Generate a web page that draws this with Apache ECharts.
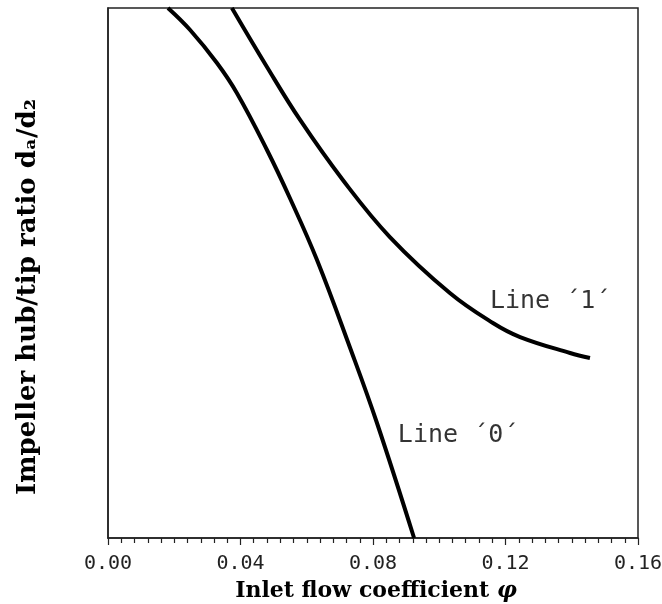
<!DOCTYPE html>
<html>
<head>
<meta charset="utf-8">
<script src="https://cdn.jsdelivr.net/npm/echarts@6/dist/echarts.min.js"></script>
<style>html,body{margin:0;padding:0;background:#fff}#c{width:662px;height:604px}</style>
</head>
<body>
<div id="c"></div>
<script>
// Inlet flow coefficient (x) and normalised hub/tip ratio (y, axis unlabelled)
const line0X = [0.0181, 0.0248, 0.0329, 0.0389, 0.0480, 0.0549, 0.0631, 0.0731, 0.0812, 0.0924];
const line0Y = [1.000, 0.9585, 0.8962, 0.8396, 0.7321, 0.6415, 0.5245, 0.3585, 0.2170, 0.000];
const line1X = [0.0374, 0.0480, 0.0580, 0.0709, 0.0851, 0.1032, 0.1162, 0.1244, 0.1395, 0.1455];
const line1Y = [1.000, 0.8887, 0.7887, 0.6755, 0.5679, 0.4623, 0.4057, 0.3792, 0.3491, 0.3396];
const xTickLabels = ['0.00', '0.04', '0.08', '0.12', '0.16'];
const seriesNames = ["Line ´0´", "Line ´1´"];

const zip = (xs, ys) => xs.map((x, i) => [x, ys[i]]);
const plotFont = 'DejaVu Sans Mono';

const chart = echarts.init(document.getElementById('c'), null, {renderer: 'canvas'});
chart.setOption({
  animation: false,
  backgroundColor: '#fff',
  grid: {left: 108, right: 24, top: 8, bottom: 66, show: true, borderColor: '#222', borderWidth: 1.5,
    containLabel: false, outerBoundsMode: 'none'},
  xAxis: {
    type: 'value', min: 0, max: 0.16, interval: 0.04,
    name: '{t|Inlet flow coefficient }{p|φ}',
    nameLocation: 'middle', nameGap: 42,
    nameTextStyle: {
      padding: [0, 0, 0, 6],
      rich: {
        t: {fontFamily: 'DejaVu Serif', fontWeight: 'bold', fontSize: 22, color: '#000'},
        p: {fontFamily: 'DejaVu Serif', fontWeight: 'bold', fontStyle: 'italic', fontSize: 22, color: '#000'}
      }
    },
    axisLine: {show: true, lineStyle: {color: '#222', width: 1.5}},
    axisTick: {show: true, inside: false, length: 7, lineStyle: {color: '#222', width: 1.2}},
    minorTick: {show: true, splitNumber: 10, length: 5, lineStyle: {color: '#222', width: 1.2}},
    splitLine: {show: false},
    axisLabel: {
      margin: 16, fontFamily: plotFont, fontSize: 20, color: '#222',
      formatter: (v) => xTickLabels[Math.round(v / 0.04)]
    }
  },
  yAxis: {
    type: 'value', min: 0, max: 1,
    name: 'Impeller hub/tip ratio dₐ/d₂',
    nameLocation: 'middle', nameGap: 67, nameRotate: 90,
    nameTextStyle: {fontFamily: 'DejaVu Serif', fontWeight: 'bold', fontSize: 26, color: '#000', padding: [0, 48, 0, 0]},
    axisLine: {show: true, lineStyle: {color: '#222', width: 1.5}},
    axisTick: {show: false},
    axisLabel: {show: false},
    splitLine: {show: false}
  },
  series: [
    {
      name: seriesNames[0], type: 'line', smooth: 0.4, symbol: 'none', clip: true,
      lineStyle: {color: '#000', width: 4},
      data: zip(line0X, line0Y)
    },
    {
      name: seriesNames[1], type: 'line', smooth: 0.4, symbol: 'none', clip: true,
      lineStyle: {color: '#000', width: 4},
      data: zip(line1X, line1Y)
    },
    {
      type: 'scatter', symbolSize: 0, silent: true,
      label: {show: true, position: 'right', distance: 0, fontFamily: plotFont, fontSize: 25, color: '#000',
        formatter: (p) => p.data[2]},
      data: [[0.0875, 0.1943, seriesNames[0]], [0.1153, 0.447, seriesNames[1]]]
    }
  ]
});
</script>
</body>
</html>
